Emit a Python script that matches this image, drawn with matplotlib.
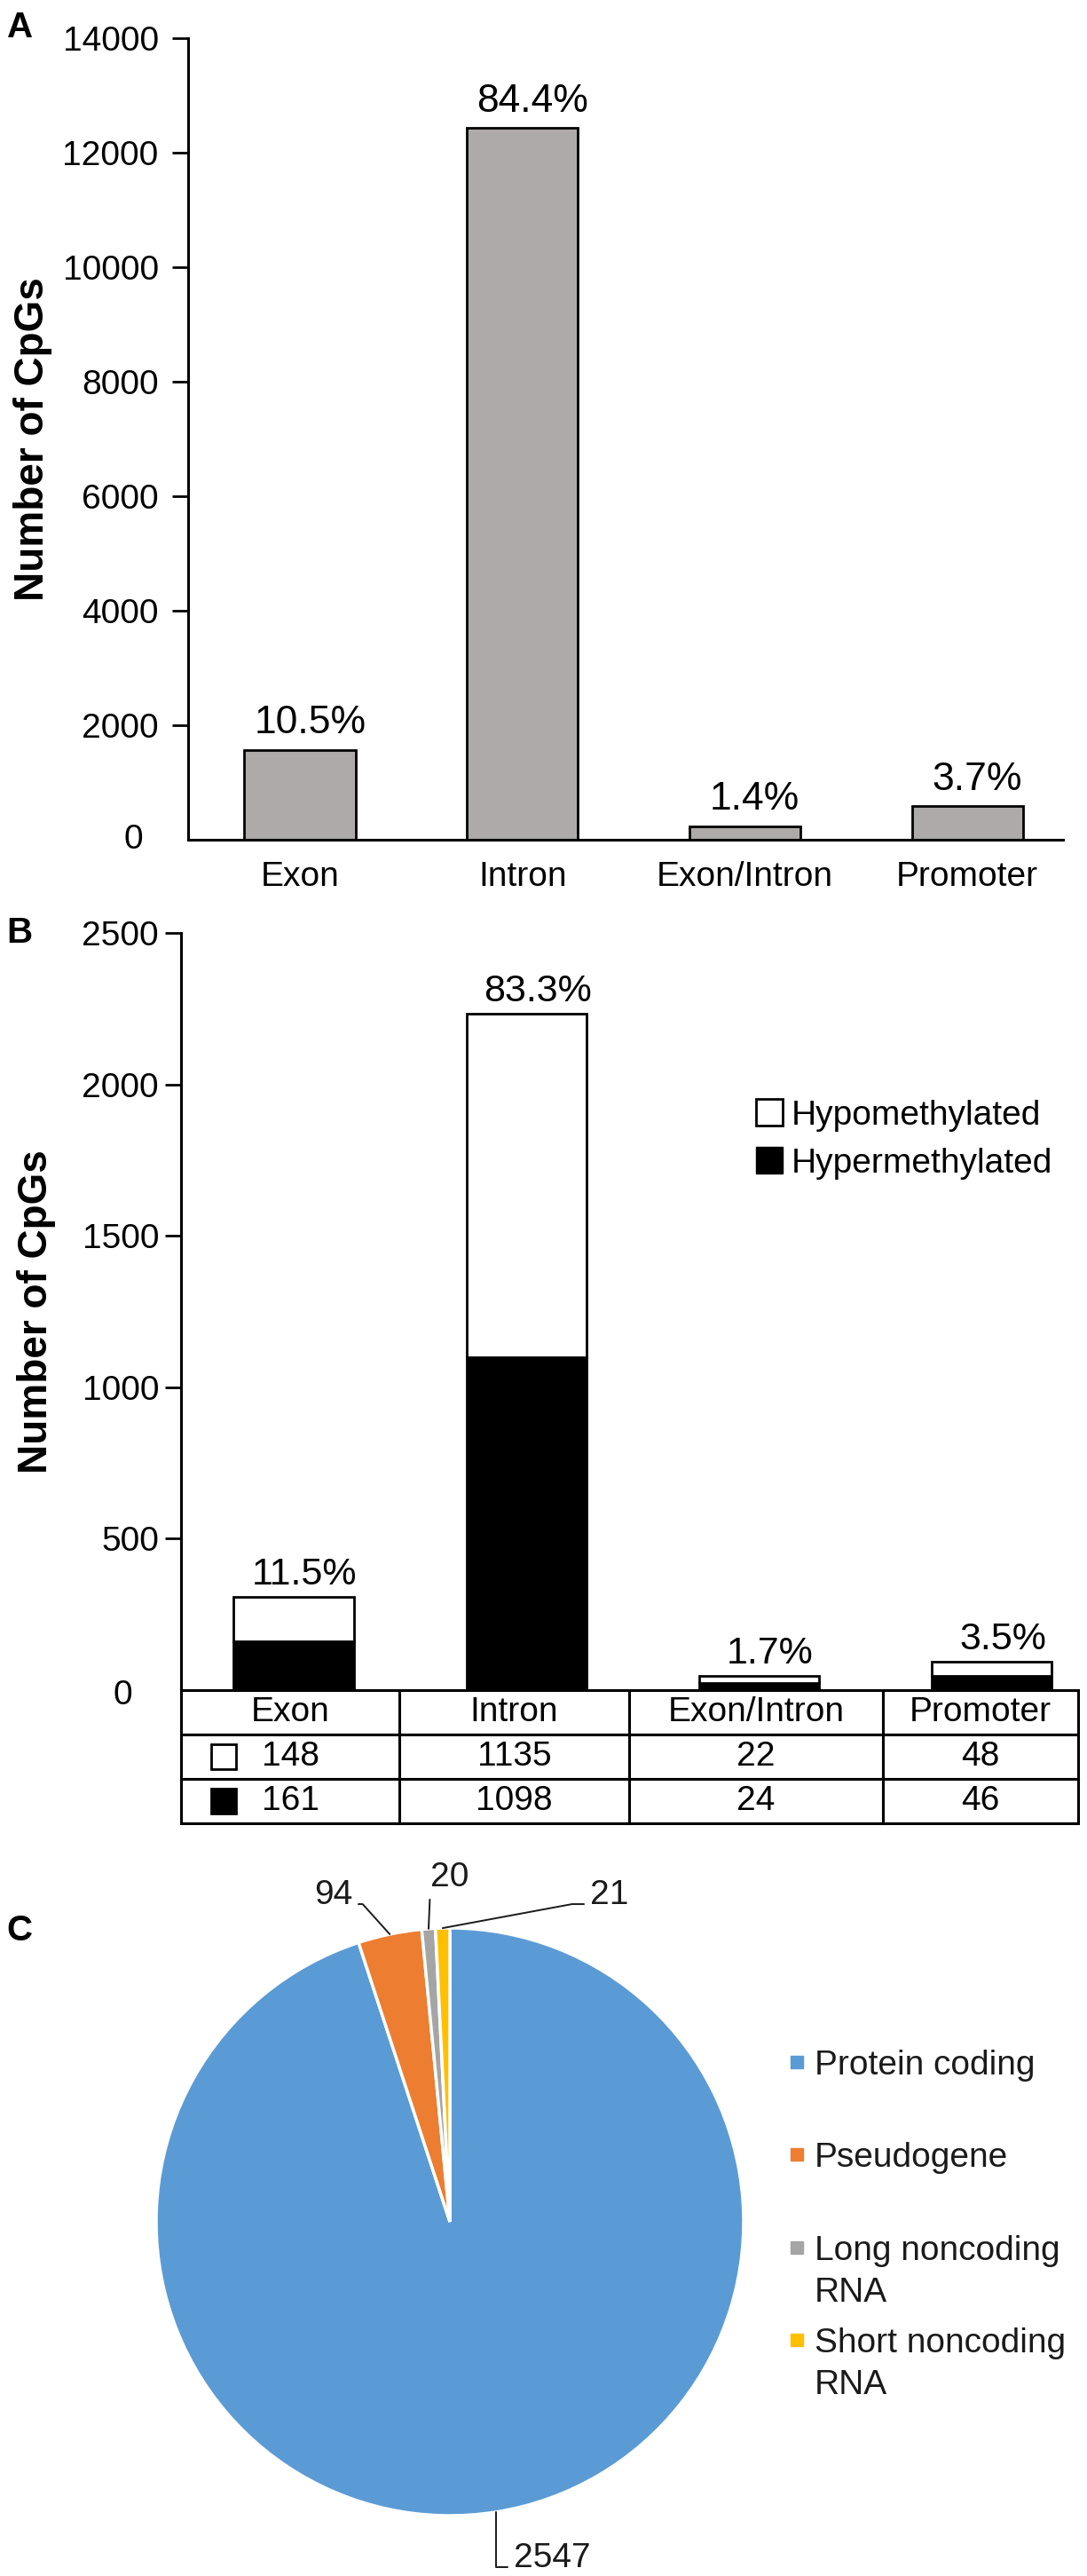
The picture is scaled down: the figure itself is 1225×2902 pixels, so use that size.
import numpy as np
import matplotlib
matplotlib.use('Agg')
import matplotlib.pyplot as plt
from matplotlib.patches import Patch
from matplotlib.lines import Line2D

plt.rcParams['font.family'] = ['Liberation Sans', 'DejaVu Sans']

W, H = 1225, 2902

regions = ['Exon', 'Intron', 'Exon/Intron', 'Promoter']

# A: all CpGs per region
a_counts = [1565, 12430, 230, 585]
a_pcts = ['10.5%', '84.4%', '1.4%', '3.7%']

# B: hypo / hyper split
b_hypo = [148, 1135, 22, 48]
b_hyper = [161, 1098, 24, 46]
b_pcts = ['11.5%', '83.3%', '1.7%', '3.5%']

# C: gene types
pie_names = ['Protein coding', 'Pseudogene', 'Long noncoding\nRNA', 'Short noncoding\nRNA']
pie_counts = [2547, 94, 20, 21]
pie_colors = ['#5b9bd5', '#ed7d31', '#a5a5a5', '#ffc000']


def px_box(left, top, right, bottom):
    return [left / W, 1 - bottom / H, (right - left) / W, (bottom - top) / H]


fig = plt.figure(figsize=(W / 100, H / 100), dpi=100)

# ---------------- A ----------------
axA = fig.add_axes(px_box(212, 43, 1198, 946))
xs = np.arange(len(regions))
axA.bar(xs, a_counts, width=0.5, color='#aeaaa9', edgecolor='black', linewidth=2)
axA.set_xlim(-0.503, 3.43)
axA.set_ylim(0, 14000)
axA.set_yticks(range(2000, 14001, 2000))
axA.set_xticks(xs)
axA.set_xticklabels(regions)
axA.tick_params(axis='y', labelsize=28, length=13, width=2, pad=11)
axA.tick_params(axis='x', labelsize=28, length=0, pad=17)
for s in ['top', 'right']:
    axA.spines[s].set_visible(False)
for s in ['left', 'bottom']:
    axA.spines[s].set_linewidth(2.2)
axA.text(-0.063, 0, '0', transform=axA.get_yaxis_transform(),
         ha='center', va='center', fontsize=28)
for i, (v, p) in enumerate(zip(a_counts, a_pcts)):
    axA.annotate(p, (i, v), xytext=(8, 13.5), textcoords='offset points',
                 ha='center', va='baseline', fontsize=32)
axA.set_ylabel('Number of CpGs', fontsize=33, fontweight='bold', va='center')
axA.yaxis.set_label_coords(-0.1775, 0.5)

# ---------------- B ----------------
axB = fig.add_axes(px_box(204, 1051, 1215, 1904))
axB.bar(xs, b_hyper, width=0.515, color='black', edgecolor='black', linewidth=2)
axB.bar(xs, b_hypo, width=0.515, bottom=b_hyper, color='white',
        edgecolor='black', linewidth=2)
axB.set_xlim(-0.484, 3.37)
axB.set_ylim(0, 2500)
axB.set_yticks(range(500, 2501, 500))
axB.set_xticks([])
axB.tick_params(axis='y', labelsize=28, length=13, width=2, pad=5)
for s in ['top', 'right', 'bottom']:
    axB.spines[s].set_visible(False)
axB.spines['left'].set_linewidth(2.2)
axB.annotate('0', xy=(-0.0653, 0), xycoords=('axes fraction', 'data'),
             xytext=(0, -4), textcoords='offset points',
             ha='center', va='center', fontsize=28)
totals = [a + b for a, b in zip(b_hypo, b_hyper)]
for i, (v, p) in enumerate(zip(totals, b_pcts)):
    axB.annotate(p, (i, v), xytext=(9, 10), textcoords='offset points',
                 ha='center', va='baseline', fontsize=31)
axB.set_ylabel('Number of CpGs', fontsize=33, fontweight='bold', va='center')
axB.yaxis.set_label_coords(-0.161, 0.5)

tbl_h = 150 / 853
tbl = axB.table(cellText=[b_hypo, b_hyper], colLabels=regions,
                colWidths=[246 / 1011, 259 / 1011, 286 / 1011, 220 / 1011],
                cellLoc='center', bbox=[0, -tbl_h, 1, tbl_h])
tbl.auto_set_font_size(False)
tbl.set_fontsize(28)
for cell in tbl.get_celld().values():
    cell.set_linewidth(2.2)
row_h = tbl_h / 3
for k, fc in enumerate(['white', 'black']):
    axB.plot([48 / 1011], [-row_h * (k + 1.5)], marker='s', ms=20, mfc=fc,
             mec='black', mew=2, transform=axB.transAxes, clip_on=False)

axB.legend(handles=[Patch(facecolor='white', edgecolor='black', linewidth=2,
                          label='Hypomethylated'),
                    Patch(facecolor='black', edgecolor='black', label='Hypermethylated')],
           loc='upper left', bbox_to_anchor=(852 / W, 1 - 1238 / H),
           bbox_transform=fig.transFigure, frameon=False, fontsize=28,
           handlelength=0.77, handleheight=0.82, handletextpad=0.26,
           labelspacing=0.45, borderpad=0, borderaxespad=0)

# ---------------- C ----------------
R = 331
cx, cy = 507, 2503
axC = fig.add_axes(px_box(cx - R, cy - R, cx + R, cy + R))
wedges, _ = axC.pie(pie_counts, colors=pie_colors, startangle=90, counterclock=False,
                    wedgeprops=dict(edgecolor='white', linewidth=2.5))
axC.set_xlim(-1, 1)
axC.set_ylim(-1, 1)


def pie_xy(px, py):
    return ((px - cx) / R, (cy - py) / R)


label_pos = [pie_xy(579, 2892), pie_xy(397, 2145), pie_xy(485, 2125), pie_xy(665, 2145)]
label_ha = ['left', 'right', 'left', 'left']
label_conn = ['angle,angleA=0,angleB=90,rad=0', 'angle,angleA=0,angleB=-48,rad=0',
              'arc3', 'angle,angleA=0,angleB=10.5,rad=0']
label_rel = [(0, 0.22), (1, 0.22), (0, 0.22), (0, 0.22)]
for w, n, pos, ha, cs, rp in zip(wedges, pie_counts, label_pos, label_ha, label_conn, label_rel):
    ang = np.deg2rad((w.theta1 + w.theta2) / 2)
    axC.annotate(str(n), xy=(np.cos(ang), np.sin(ang)), xytext=pos,
                 ha=ha, va='baseline', fontsize=28, color='#1a1a1a',
                 arrowprops=dict(arrowstyle='-', color='#1a1a1a', lw=1.4,
                                 connectionstyle=cs, relpos=rp, shrinkA=3, shrinkB=0))

# legend for C (drawn by hand so markers sit on the first line)
for i, (name, col) in enumerate(zip(pie_names, pie_colors)):
    yc = 2323 + i * 104.3
    fig.add_artist(Line2D([898 / W], [1 - yc / H], marker='s', ms=9.5, color=col,
                          linestyle='None', transform=fig.transFigure))
    for j, line in enumerate(name.split('\n')):
        fig.text(918 / W, 1 - (yc + 14 + j * 47) / H, line, ha='left', va='baseline',
                 fontsize=28, color='#1a1a1a')

# panel letters
for letter, (lx, ly) in zip('ABC', [(23, 31), (22, 1051), (22, 2175)]):
    fig.text(lx / W, 1 - ly / H, letter, ha='center', va='center',
             fontsize=29, fontweight='bold')

fig.savefig('out.png', dpi=100)
